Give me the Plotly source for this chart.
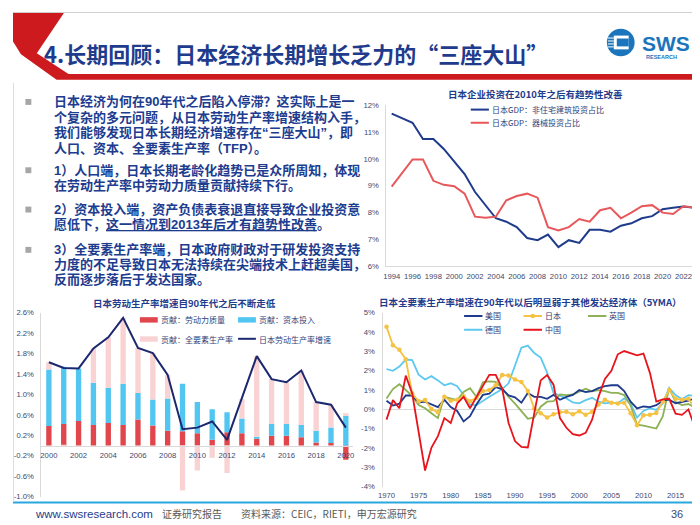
import plotly.graph_objects as go

W, H = 700, 525
def px(x): return x / W
def py(y): return 1 - y / H

NAVY = "#1F3B8C"
TXT = "#203C8F"
TICKC = "#3C4A6E"
CJK = "Noto Sans CJK SC"
NUMF = "Liberation Sans, Noto Sans CJK SC"

# ---------------- chart 1 data ----------------
years1 = list(range(1994, 2024))
nonres_share = [11.69, 11.52, 11.35, 10.74, 10.74, 10.37, 9.92, 9.43, 8.76, 8.29,
                7.78, 7.65, 7.45, 7.04, 6.96, 7.17, 6.70, 6.96, 6.86, 7.35,
                7.35, 7.28, 7.50, 7.59, 7.78, 7.86, 8.12, 8.17, 8.22, 8.17]
machinery_share = [8.96, 9.49, 9.98, 9.98, 9.18, 9.03, 8.98, 8.70, 7.84, 7.80,
                   7.84, 8.45, 8.61, 8.70, 8.55, 7.45, 7.32, 7.45, 7.75, 7.65,
                   8.08, 8.17, 7.78, 7.99, 8.23, 8.27, 7.99, 7.94, 8.23, 8.18]
c1_names = ["日本GDP：非住宅建筑投资占比", "日本GDP：器械投资占比"]

# ---------------- chart 2 data ----------------
years2 = list(range(2000, 2021))
labor_quality = [0.38, 0.42, 0.48, 0.40, 0.44, 0.40, 0.51, 0.39, 0.29, 0.28, 0.24,
                 0.11, 0.26, 0.24, 0.13, 0.19, 0.19, 0.16, 0.06, 0.05, -0.28]
capital_input = [1.11, 1.12, 1.03, 0.83, 0.69, 0.81, 0.52, 0.51, 0.63, 0.93, 0.61,
                 0.60, 0.39, 0.29, 0.04, 0.23, 0.23, 0.24, 0.23, 0.30, 0.58]
tfp_contrib = [0.14, -0.03, 0.00, 0.67, 0.99, 1.29, 0.88, 0.91, 0.46, -0.88, -0.49,
               -0.24, -0.54, 0.38, 1.58, 0.88, 0.82, 1.07, 0.56, 0.45, 0.05]
labor_prod_growth = [1.63, 1.52, 1.51, 1.90, 2.12, 2.50, 1.91, 1.81, 1.38, 0.32, 0.35,
                     0.47, 0.11, 0.93, 1.75, 1.30, 1.24, 1.47, 0.85, 0.80, 0.35]
c2_names = ["贡献：劳动力质量", "贡献：资本投入", "贡献：全要素生产率", "日本劳动生产率增速"]

# ---------------- chart 3 data ----------------
years3 = list(range(1970, 2019))
tfp_us = [0.45, 0.20, 0.30, 0.72, 0.72, 0.35, 0.40, 0.25, 0.12, 0.50,
          0.12, -0.08, -0.62, -0.35, 0.25, 0.75, 0.82, 1.15, 1.05, 0.72,
          0.62, 0.35, 0.85, 0.65, 0.65, 0.55, 0.75, 0.50, 0.65, 0.75,
          1.00, 0.90, 0.95, 1.10, 1.20, 1.25, 1.25, 0.95, 0.40, 0.05,
          0.15, 0.12, 0.22, 0.45, 0.50, 0.32, 0.38, 0.46, 0.57]
tfp_japan = [4.27, 3.32, 3.08, 2.60, 0.82, 0.42, 0.48, 0.02, -0.15, 0.65,
             0.45, 0.50, 0.68, 0.42, 0.60, 0.95, 1.00, 1.25, 1.78, 1.75,
             1.55, 1.42, 0.95, 0.05, -0.20, -0.42, -0.25, -0.15, -0.12, -0.25,
             -0.10, -0.28, -0.12, 0.25, 0.50, 0.35, 0.30, 0.35, -0.20, -0.82,
             -0.30, -0.28, -0.18, 0.40, 1.00, 0.55, 0.50, 0.55, 0.05]
tfp_uk = [0.56, 1.05, 1.30, 1.00, 0.70, 0.23, 0.06, -0.20, -0.45, 0.65,
          0.56, 0.48, 0.90, 1.10, 0.65, 1.40, 1.45, 1.42, 1.10, 0.65,
          0.30, -0.10, -0.48, -0.42, 0.14, 0.40, 0.43, 0.77, 0.74, 0.77,
          0.94, 1.07, 0.94, 1.00, 0.94, 0.85, 0.85, 0.74, 0.20, -0.79,
          -0.84, -0.90, -0.99, -0.36, 1.10, 0.38, 0.22, 0.28, 0.09]
tfp_germany = [2.09, 2.00, 2.22, 2.58, 2.55, 1.80, 1.55, 1.72, 1.50, 1.25,
               1.35, 1.20, 0.75, 0.25, 0.22, 0.45, 0.65, 0.85, 1.05, 1.35,
               2.30, 3.19, 3.30, 2.92, 2.68, 1.90, 0.85, 0.70, 0.57, 0.36,
               0.31, 0.48, 0.60, 0.40, 0.31, 0.35, 0.31, 0.57, 0.30, -0.42,
               -0.08, 0.06, -0.03, 0.31, 1.11, 0.74, 0.53, 0.74, 0.69]
tfp_china = [-0.53, 0.48, 0.06, 1.75, 0.82, -1.13, -3.16, -1.97, -1.38, -0.45,
             -0.70, 0.31, 0.65, 0.06, 0.65, 1.25, 1.79, 1.79, 1.08, -0.70,
             -1.64, -1.94, -1.97, -0.20, 1.50, 1.78, 1.28, -0.45, -0.95, -1.28,
             -1.35, -1.21, -0.53, 0.65, 1.58, 2.00, 2.85, 3.02, 2.93, 2.80,
             2.89, 1.89, 0.40, 0.52, 0.55, -0.22, -0.28, 0.00, -0.93]
c3_names = ["美国", "日本", "英国", "德国", "中国"]

c1_colors = [NAVY, "#E8575A"]
c2_colors = ["#E0464B", "#52C6F0", "#F9D3D3", "#1B2870"]
c3_colors = ["#1F3B8C", "#F5C242", "#8DB255", "#5DC8F0", "#E8141C"]

fig = go.Figure()

# chart 1
fig.add_trace(go.Scatter(x=years1, y=nonres_share, mode="lines", name=c1_names[0],
                         line=dict(color=c1_colors[0], width=2), xaxis="x", yaxis="y"))
fig.add_trace(go.Scatter(x=years1, y=machinery_share, mode="lines", name=c1_names[1],
                         line=dict(color=c1_colors[1], width=2), xaxis="x", yaxis="y"))

# chart 2
for vals, nm, col in [(labor_quality, c2_names[0], c2_colors[0]),
                      (capital_input, c2_names[1], c2_colors[1]),
                      (tfp_contrib, c2_names[2], c2_colors[2])]:
    fig.add_trace(go.Bar(x=years2, y=vals, name=nm, marker=dict(color=col, line=dict(width=0)),
                         width=0.36, xaxis="x2", yaxis="y2"))
fig.add_trace(go.Scatter(x=years2, y=labor_prod_growth, mode="lines", name=c2_names[3],
                         line=dict(color=c2_colors[3], width=2), xaxis="x2", yaxis="y2"))

# chart 3
fig.add_trace(go.Scatter(x=years3, y=tfp_germany, mode="lines", name=c3_names[3],
                         line=dict(color=c3_colors[3], width=1.8), xaxis="x3", yaxis="y3"))
fig.add_trace(go.Scatter(x=years3, y=tfp_uk, mode="lines", name=c3_names[2],
                         line=dict(color=c3_colors[2], width=1.8), xaxis="x3", yaxis="y3"))
fig.add_trace(go.Scatter(x=years3, y=tfp_us, mode="lines", name=c3_names[0],
                         line=dict(color=c3_colors[0], width=1.8), xaxis="x3", yaxis="y3"))
fig.add_trace(go.Scatter(x=years3, y=tfp_japan, mode="lines+markers", name=c3_names[1],
                         line=dict(color=c3_colors[1], width=1.8),
                         marker=dict(size=4.5, color=c3_colors[1]), xaxis="x3", yaxis="y3"))
fig.add_trace(go.Scatter(x=years3, y=tfp_china, mode="lines", name=c3_names[4],
                         line=dict(color=c3_colors[4], width=1.8), xaxis="x3", yaxis="y3"))

tickfont = dict(size=7.7, color=TICKC, family=NUMF)
AX = dict(showgrid=False, zeroline=False, ticks="", fixedrange=True, tickfont=tickfont)

fig.update_layout(
    width=W, height=H, margin=dict(l=0, r=0, t=0, b=0),
    paper_bgcolor="white", plot_bgcolor="rgba(0,0,0,0)",
    showlegend=False, barmode="relative",
    xaxis=dict(AX, domain=[px(376.7), px(692)], range=[1993.5, 2023.5], anchor="y",
               tickmode="array", tickvals=list(range(1994, 2023, 2)),
               showline=True, linecolor="#D9D9D9", ticklabelstandoff=3),
    yaxis=dict(AX, domain=[py(258.3), py(95)], range=[6, 12], anchor="x",
               tickmode="array", tickvals=list(range(6, 13)),
               ticktext=[f"{v}%" for v in range(6, 13)],
               showline=True, linecolor="#D9D9D9", ticklabelstandoff=5),
    xaxis2=dict(AX, domain=[px(28.7), px(343.2)], range=[1999.5, 2020.5], anchor="free",
                position=py(441.7), tickmode="array", tickvals=list(range(2000, 2021, 2)),
                showline=True, linecolor="#D9D9D9", ticklabelstandoff=2),
    yaxis2=dict(AX, domain=[py(493), py(306)], range=[-1.0, 2.6], anchor="x2",
                tickmode="array", tickvals=[-1.0 + 0.4 * i for i in range(10)],
                ticktext=[f"{-1.0 + 0.4 * i:.1f}%" for i in range(10)],
                showline=True, linecolor="#D9D9D9", ticklabelstandoff=5),
    xaxis3=dict(AX, domain=[px(373.5), px(691)], range=[1969.5, 2018.5], anchor="y3",
                tickmode="array", tickvals=list(range(1970, 2016, 5)),
                showline=False, ticklabelstandoff=3),
    yaxis3=dict(AX, domain=[py(483), py(306)], range=[-4, 5], anchor="x3",
                tickmode="array", tickvals=list(range(-4, 6)),
                ticktext=[f"{v}%" for v in range(-4, 6)],
                zeroline=True, zerolinecolor="#D9D9D9", zerolinewidth=1,
                showline=True, linecolor="#D9D9D9", ticklabelstandoff=6),
)

shapes = []
annos = []

def poly(points, color):
    d = "M " + " L ".join(f"{px(x):.5f},{py(y):.5f}" for x, y in points) + " Z"
    return dict(type="path", xref="paper", yref="paper", path=d,
                fillcolor=color, line=dict(width=0), layer="below")

def hline(x0, x1, y, color, width):
    return dict(type="line", xref="paper", yref="paper", x0=px(x0), x1=px(x1),
                y0=py(y), y1=py(y), line=dict(color=color, width=width))

def rect(x0, y0, x1, y1, color):
    return dict(type="rect", xref="paper", yref="paper", x0=px(x0), x1=px(x1),
                y0=py(y1), y1=py(y0), fillcolor=color, line=dict(width=0))

def text(x, y, s, size, color, xanchor="left", family=CJK, bold=False, yanchor="middle"):
    if bold:
        s = f"<b>{s}</b>"
    annos.append(dict(x=px(x), y=py(y), xref="paper", yref="paper", text=s,
                      showarrow=False, xanchor=xanchor, yanchor=yanchor, align="left",
                      borderpad=0, font=dict(size=size, color=color, family=family)))

# ---------- header ----------
shapes.append(poly([(0, 0), (52, 0), (24, 42), (56, 63), (700, 63), (700, 69),
                    (44, 69), (8, 43), (0, 30)], "#CC1A1F"))
shapes.append(hline(0, 700, 0.5, "#D0D0D0", 1))
text(30, 42, "4.长期回顾：日本经济长期增长乏力的“三座大山”", 22, NAVY, bold=True)

# logo
shapes.append(dict(type="circle", xref="paper", yref="paper", x0=px(599), x1=px(627),
                   y0=py(45), y1=py(17), fillcolor="#1B75BC", line=dict(width=0)))
shapes.append(rect(606, 24, 621, 38, "white"))
shapes.append(rect(609, 27, 621, 35, "#1B75BC"))
for yy in (26.5, 29.5, 32.5, 35.5):
    shapes.append(hline(600, 606, yy, "white", 1))
text(633, 32, "SWS", 21, "#1B75BC", family="Liberation Sans", bold=True)
text(654, 45.5, "RESEARCH", 5.5, "#1B75BC", xanchor="center", family="Liberation Sans", bold=True)

# ---------- left text (one annotation per line) ----------
BODYF = "Liberation Sans, Noto Sans CJK SC"
lines = [
    (91.5, "日本经济为何在90年代之后陷入停滞？这实际上是一", True),
    (107, "个复杂的多元问题，从日本劳动生产率增速结构入手，", False),
    (122.5, "我们能够发现日本长期经济增速存在“三座大山”，即", False),
    (138.5, "人口、资本、全要素生产率（TFP）。", False),
    (161, "1）人口端，日本长期老龄化趋势已是众所周知，体现", True),
    (176.5, "在劳动生产率中劳动力质量贡献持续下行。", False),
    (201, "2）资本投入端，资产负债表衰退直接导致企业投资意", True),
    (216.5, "愿低下，<u>这一情况到2013年后才有趋势性改善</u>。", False),
    (242, "3）全要素生产率端，日本政府财政对于研发投资支持", True),
    (257, "力度的不足导致日本无法持续在尖端技术上赶超美国，", False),
    (272, "反而逐步落后于发达国家。", False),
]
for y, s, bullet in lines:
    text(40, y, s, 13, TXT, bold=True, family=BODYF)
    if bullet:
        shapes.append(rect(12.5, y - 3, 18.5, y + 3, "#A6A6A6"))

# ---------- chart titles ----------
text(527, 83, "日本企业投资在2010年之后有趋势性改善", 9.5, NAVY, xanchor="center", bold=True)
text(173, 296, "日本劳动生产率增速自90年代之后不断走低", 9.5, NAVY, xanchor="center", bold=True)
text(522, 295, "日本全要素生产率增速在90年代以后明显弱于其他发达经济体（5YMA）", 9.5, NAVY,
     xanchor="center", bold=True)

LEGC = "#2E3F7A"
# chart 1 legend
for i, yy in enumerate((99.3, 112.7)):
    shapes.append(hline(461.7, 480, yy, c1_colors[i], 2))
    text(482, yy, c1_names[i], 8, LEGC)

# chart 2 legend
shapes.append(rect(128, 310.5, 146, 316, c2_colors[0]))
text(148, 313, c2_names[0], 8, LEGC)
shapes.append(rect(227, 310.5, 245, 316, c2_colors[1]))
text(247, 313, c2_names[1], 8, LEGC)
shapes.append(rect(128, 330, 146, 335.5, c2_colors[2]))
text(148, 333, c2_names[2], 8, LEGC)
shapes.append(hline(227, 245, 332.5, c2_colors[3], 2))
text(247, 333, c2_names[3], 8, LEGC)

# chart 3 legend
leg3 = [(0, 455, 309.3), (1, 515, 309.3), (2, 580, 309.3), (3, 455, 323.3), (4, 515, 323.3)]
for idx, x0, yy in leg3:
    shapes.append(hline(x0, x0 + 18.5, yy, c3_colors[idx], 2))
    if idx == 1:
        shapes.append(dict(type="circle", xref="paper", yref="paper",
                           x0=px(x0 + 7), x1=px(x0 + 11.5), y0=py(yy + 2.25), y1=py(yy - 2.25),
                           fillcolor=c3_colors[1], line=dict(width=0)))
    text(x0 + 20.5, yy, c3_names[idx], 8, LEGC)

# ---------- footer ----------
shapes.append(hline(0, 700, 499, "#2AA7DF", 2))
shapes.append(dict(type="line", xref="paper", yref="paper", x0=px(0.5), x1=px(0.5),
                   y0=py(498), y1=py(72), line=dict(color="#DDDDDD", width=1)))
text(21, 510.5, "www.swsresearch.com", 11.5, "#1F3B8C", family="Liberation Sans")
text(149, 510.5, "证券研究报告", 10, "#595959")
text(229, 510.5, "资料来源：CEIC，RIETI，申万宏源研究", 10, "#595959")
text(670, 510.5, "36", 11, "#3C4A6E", xanchor="center", family="Liberation Sans")

fig.update_layout(shapes=shapes, annotations=annos)
fig.write_html("out.html")
